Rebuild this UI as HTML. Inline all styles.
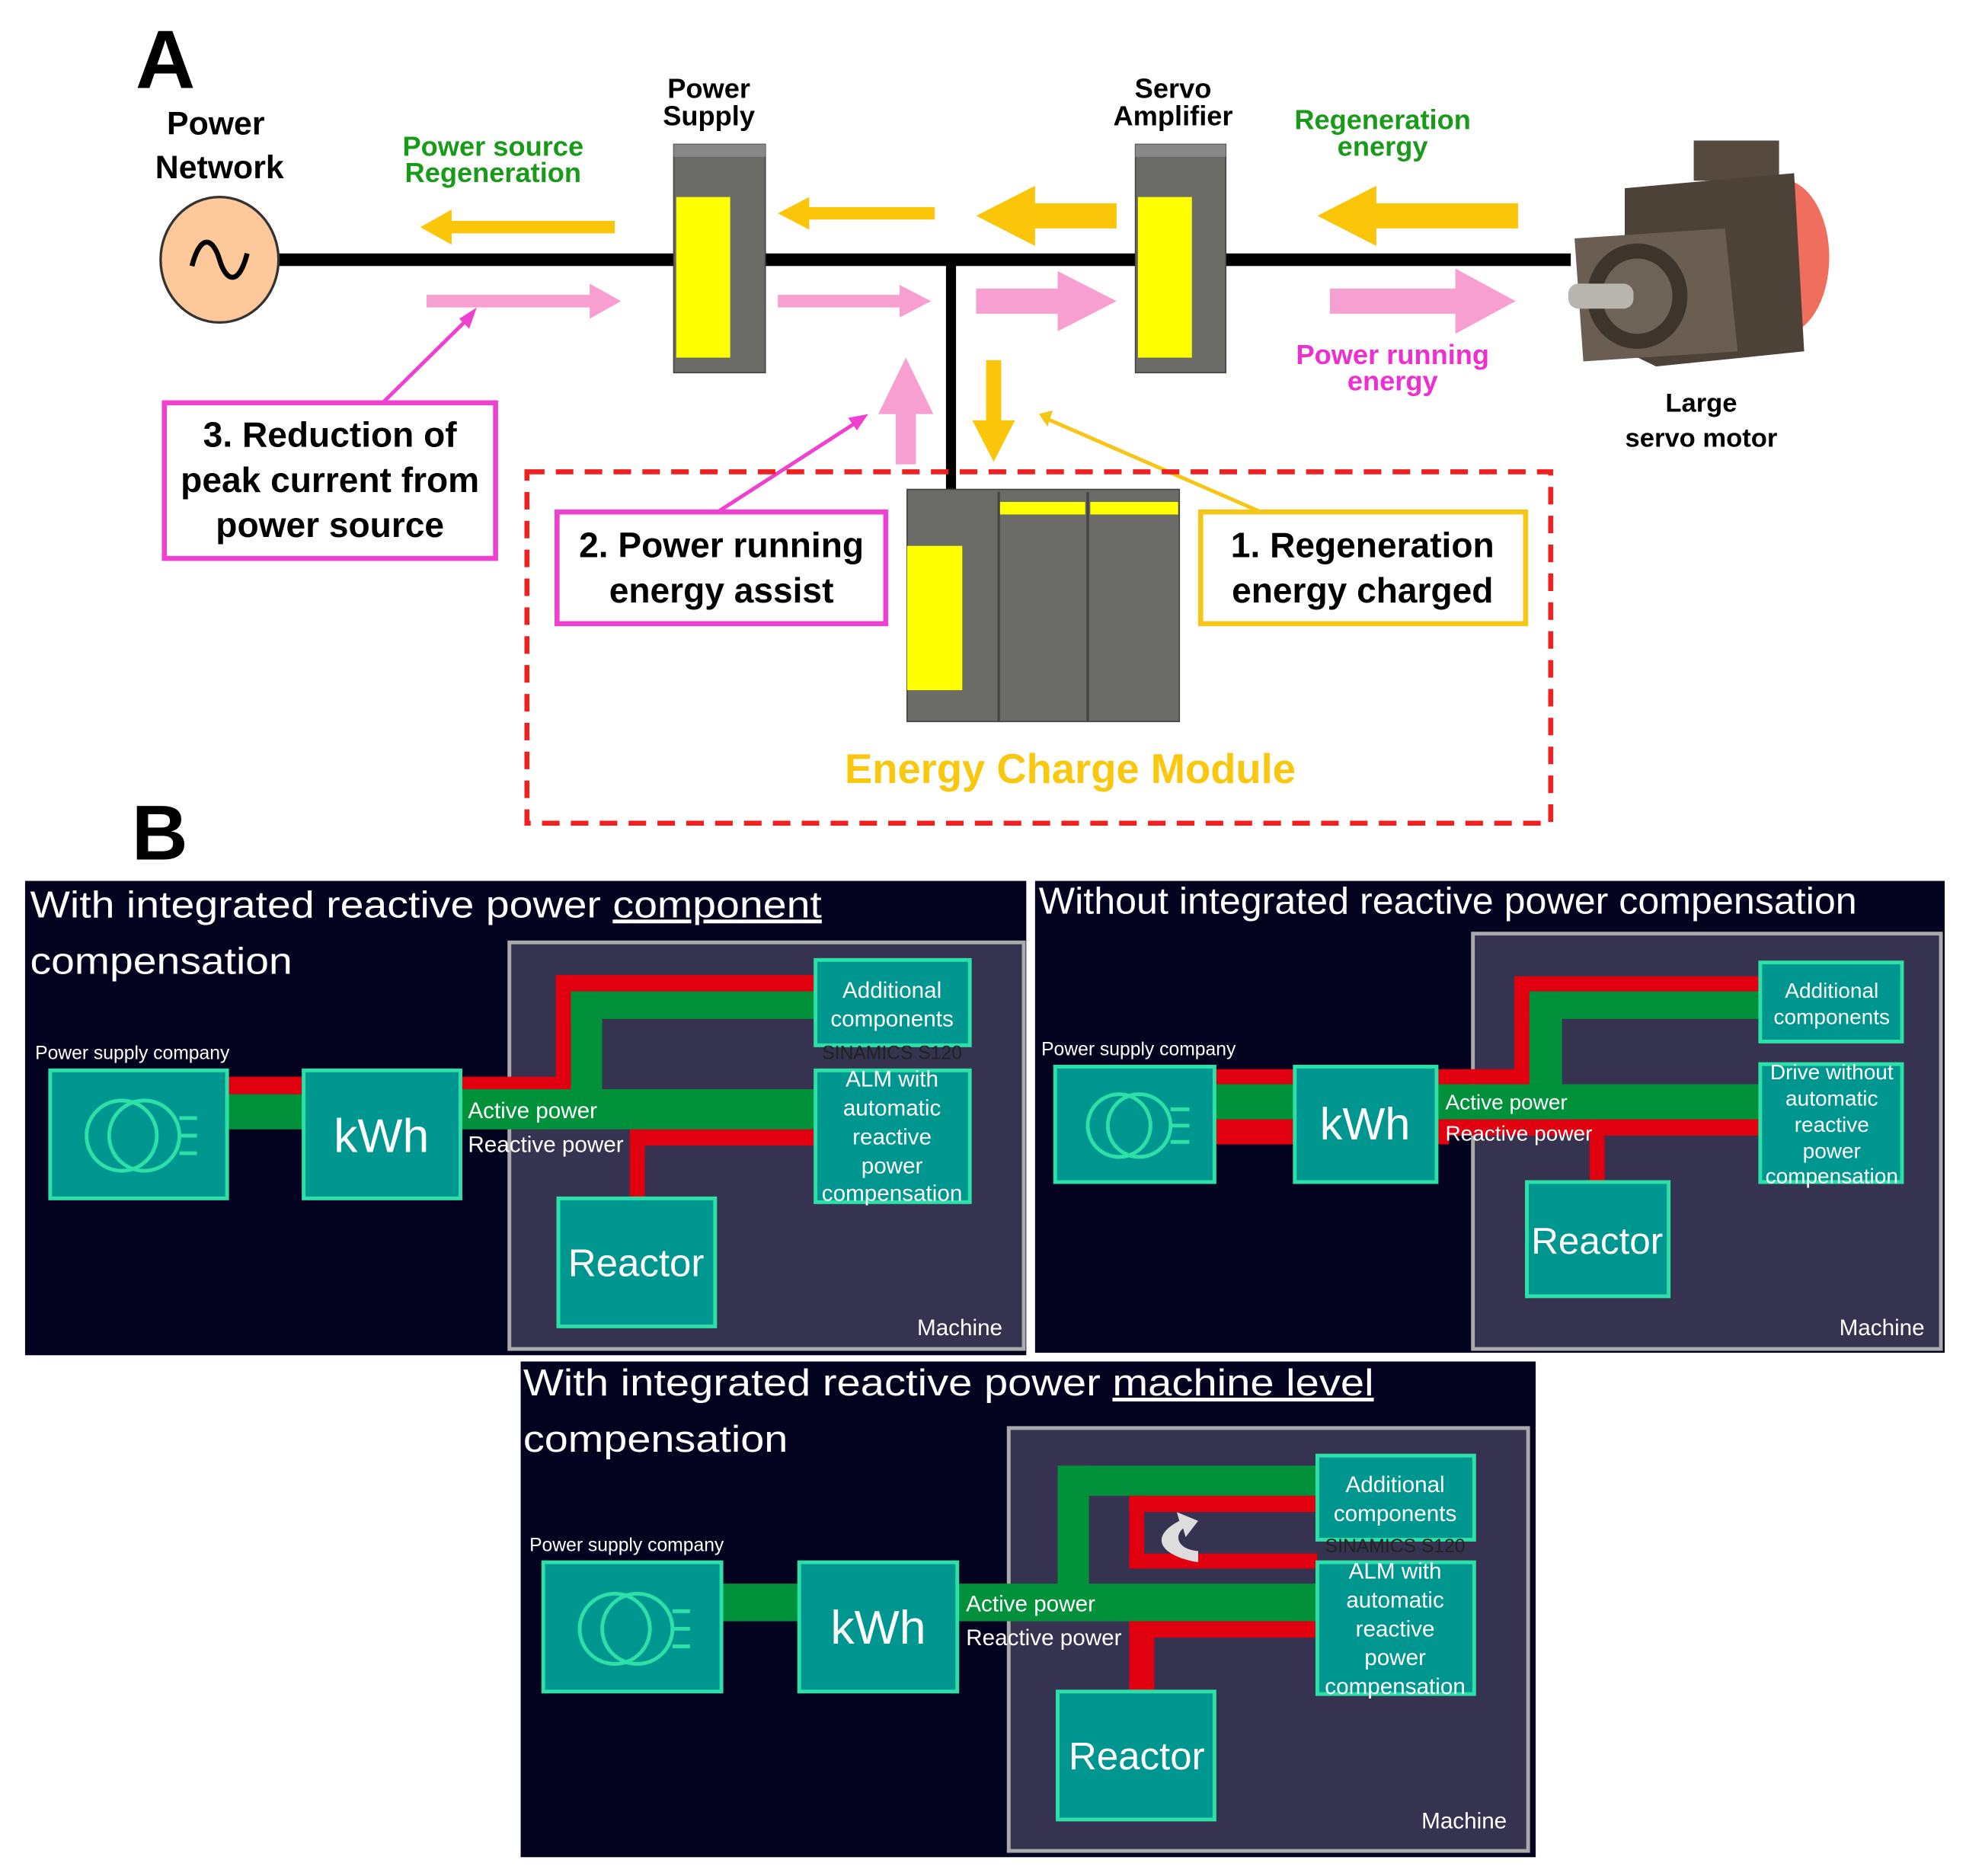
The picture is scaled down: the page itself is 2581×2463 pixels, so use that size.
<!DOCTYPE html>
<html><head><meta charset="utf-8"><style>
html,body{margin:0;padding:0;background:#fff}
svg{display:block}
text{font-family:"Liberation Sans",sans-serif}
.b{font-weight:bold}
</style></head><body>
<svg width="2581" height="2463" viewBox="0 0 1567 1495" preserveAspectRatio="none" xmlns="http://www.w3.org/2000/svg">
<rect width="1567" height="1495" fill="#fff"/>
<!-- Panel A -->
<text x="108" y="70" class="b" font-size="66">A</text>
<text x="172" y="107" class="b" font-size="26" text-anchor="middle">Power</text>
<text x="175" y="142" class="b" font-size="26" text-anchor="middle">Network</text>
<line x1="220" y1="207" x2="1252" y2="207" stroke="#000" stroke-width="10"/>
<line x1="758" y1="207" x2="758" y2="392" stroke="#000" stroke-width="8"/>
<ellipse cx="175" cy="207" rx="47" ry="50" fill="#fdc99a" stroke="#333" stroke-width="2"/>
<path d="M153 212 C160 185,170 190,175 207 C180 224,190 229,197 202" fill="none" stroke="#000" stroke-width="4"/>
<text x="393" y="124" class="b" font-size="22" fill="#1a9a1a" text-anchor="middle">Power source</text>
<text x="393" y="145" class="b" font-size="22" fill="#1a9a1a" text-anchor="middle">Regeneration</text>
<text x="565" y="78" class="b" font-size="22" text-anchor="middle">Power</text>
<text x="565" y="100" class="b" font-size="22" text-anchor="middle">Supply</text>
<text x="935" y="78" class="b" font-size="22" text-anchor="middle">Servo</text>
<text x="935" y="100" class="b" font-size="22" text-anchor="middle">Amplifier</text>
<text x="1102" y="103" class="b" font-size="22" fill="#1a9a1a" text-anchor="middle">Regeneration</text>
<text x="1102" y="124" class="b" font-size="22" fill="#1a9a1a" text-anchor="middle">energy</text>
<text x="1110" y="290" class="b" font-size="22" fill="#ee2fd0" text-anchor="middle">Power running</text>
<text x="1110" y="311" class="b" font-size="22" fill="#ee2fd0" text-anchor="middle">energy</text>
<text x="1356" y="328" class="b" font-size="21" text-anchor="middle">Large</text>
<text x="1356" y="356" class="b" font-size="21" text-anchor="middle">servo motor</text>
<!-- modules -->
<rect x="537" y="115" width="73" height="182" fill="#6b6b68" stroke="#444"/>
<rect x="539" y="157" width="43" height="128" fill="#ffff00"/>
<rect x="537" y="115" width="73" height="10" fill="#888"/>
<rect x="905" y="115" width="72" height="182" fill="#6b6b68" stroke="#444"/>
<rect x="907" y="157" width="43" height="128" fill="#ffff00"/>
<rect x="905" y="115" width="72" height="10" fill="#888"/>
<rect x="723" y="390" width="217" height="185" fill="#6b6b68" stroke="#444"/>
<rect x="723" y="435" width="44" height="115" fill="#ffff00"/>
<rect x="797" y="400" width="68" height="10" fill="#ffff00"/>
<rect x="869" y="400" width="70" height="10" fill="#ffff00"/>
<line x1="796" y1="392" x2="796" y2="575" stroke="#444" stroke-width="2"/>
<line x1="867" y1="392" x2="867" y2="575" stroke="#444" stroke-width="2"/>
<!-- motor -->
<ellipse cx="1420" cy="205" rx="38" ry="62" fill="#ef6e5e"/>
<rect x="1350" y="112" width="68" height="32" fill="#56493e"/>
<polygon points="1295,150 1430,138 1438,280 1320,292 1295,280" fill="#4d4238"/>
<polygon points="1255,190 1375,182 1385,280 1262,288" fill="#6a5e52"/>
<ellipse cx="1305" cy="236" rx="40" ry="42" fill="#3d342c"/>
<ellipse cx="1305" cy="236" rx="28" ry="30" fill="#6e6358"/>
<rect x="1250" y="226" width="52" height="20" rx="8" fill="#b8b4ae"/>
<!-- yellow arrows -->
<g fill="#fbc50a">
<polygon points="490,176 360,176 360,167 335,181 360,195 360,186 490,186"/>
<polygon points="745,165 645,165 645,157 620,170 645,183 645,175 745,175"/>
<polygon points="890,162 825,162 825,148 778,172 825,196 825,182 890,182"/>
<polygon points="1210,162 1097,162 1097,148 1050,172 1097,196 1097,182 1210,182"/>
<polygon points="786,287 798,287 798,335 809,335 792,368 775,335 786,335"/>
</g>
<g fill="#f79fd0">
<polygon points="340,235 470,235 470,226 495,240 470,254 470,245 340,245"/>
<polygon points="620,235 717,235 717,227 742,240 717,253 717,245 620,245"/>
<polygon points="778,230 843,230 843,216 890,240 843,264 843,250 778,250"/>
<polygon points="1060,230 1160,230 1160,214 1208,240 1160,266 1160,250 1060,250"/>
<polygon points="714,370 730,370 730,330 744,330 722,285 700,330 714,330"/>
</g>
<!-- callout lines -->
<line x1="305" y1="321" x2="375" y2="252" stroke="#f040d0" stroke-width="3"/>
<polygon points="380,245 366,254 374,262" fill="#f040d0"/>
<line x1="572" y1="408" x2="685" y2="335" stroke="#f040d0" stroke-width="3"/>
<polygon points="692,330 676,333 683,343" fill="#f040d0"/>
<line x1="1005" y1="408" x2="835" y2="334" stroke="#f5c518" stroke-width="3"/>
<polygon points="828,330 839,327 835,340" fill="#f5c518"/>
<rect x="420" y="376" width="816" height="280" fill="none" stroke="#f02020" stroke-width="4" stroke-dasharray="14 9"/>
<rect x="131" y="321" width="264" height="124" fill="#fff" stroke="#f040d0" stroke-width="4"/>
<text x="263" y="356" class="b" font-size="28" text-anchor="middle">3. Reduction of</text>
<text x="263" y="392" class="b" font-size="28" text-anchor="middle">peak current from</text>
<text x="263" y="428" class="b" font-size="28" text-anchor="middle">power source</text>
<rect x="444" y="408" width="262" height="89" fill="#fff" stroke="#f040d0" stroke-width="4"/>
<text x="575" y="444" class="b" font-size="28" text-anchor="middle">2. Power running</text>
<text x="575" y="480" class="b" font-size="28" text-anchor="middle">energy assist</text>
<rect x="957" y="408" width="259" height="89" fill="#fff" stroke="#f5c518" stroke-width="4"/>
<text x="1086" y="444" class="b" font-size="28" text-anchor="middle">1. Regeneration</text>
<text x="1086" y="480" class="b" font-size="28" text-anchor="middle">energy charged</text>
<text x="853" y="624" class="b" font-size="33" fill="#f9c80e" text-anchor="middle">Energy Charge Module</text>
<text x="105" y="685" class="b" font-size="62">B</text>

<!-- Panel B1 -->
<rect x="20" y="702" width="798" height="378" fill="#03021f"/>
<text x="24" y="731" font-size="30" fill="#fff" textLength="631" lengthAdjust="spacingAndGlyphs">With integrated reactive power <tspan text-decoration="underline">component</tspan></text>
<text x="24" y="776" font-size="30" fill="#fff" textLength="209" lengthAdjust="spacingAndGlyphs">compensation</text>
<rect x="406" y="751" width="410" height="324" fill="#35334f" stroke="#aaa" stroke-width="3"/>
<text x="28" y="844" font-size="15" fill="#fff">Power supply company</text>
<g fill="#e00010">
<rect x="181" y="858" width="61" height="14"/><rect x="367" y="858" width="88" height="12"/>
<rect x="443" y="777" width="12" height="93"/><rect x="443" y="777" width="207" height="13"/>
<rect x="502" y="900" width="148" height="13"/><rect x="502" y="900" width="12" height="56"/>
</g>
<g fill="#00913a">
<rect x="181" y="872" width="61" height="28"/><rect x="367" y="868" width="283" height="32"/>
<rect x="455" y="790" width="25" height="80"/><rect x="455" y="790" width="195" height="22"/>
</g>
<g fill="#009690" stroke="#2de0a8" stroke-width="3">
<rect x="40" y="853" width="141" height="102"/><rect x="242" y="853" width="125" height="102"/>
<rect x="650" y="765" width="123" height="68"/><rect x="650" y="853" width="123" height="105"/>
<rect x="445" y="955" width="125" height="102"/>
</g>
<g fill="none" stroke="#2de0a8" stroke-width="3"><circle cx="97" cy="905" r="28"/><circle cx="115" cy="905" r="28"/><path d="M143 891h14M143 905h14M143 919h14"/></g>
<text x="304" y="918" font-size="38" fill="#fff" text-anchor="middle">kWh</text>
<text x="711" y="795" font-size="18" fill="#fff" text-anchor="middle">Additional</text>
<text x="711" y="818" font-size="18" fill="#fff" text-anchor="middle">components</text>
<text x="711" y="844" font-size="15" fill="#222" text-anchor="middle">SINAMICS S120</text>
<text x="711" y="866" font-size="18" fill="#fff" text-anchor="middle">ALM with</text>
<text x="711" y="889" font-size="18" fill="#fff" text-anchor="middle">automatic</text>
<text x="711" y="912" font-size="18" fill="#fff" text-anchor="middle">reactive</text>
<text x="711" y="935" font-size="18" fill="#fff" text-anchor="middle">power</text>
<text x="711" y="957" font-size="18" fill="#fff" text-anchor="middle">compensation</text>
<text x="373" y="891" font-size="18" fill="#fff">Active power</text>
<text x="373" y="918" font-size="18" fill="#fff">Reactive power</text>
<text x="507" y="1017" font-size="31" fill="#fff" text-anchor="middle">Reactor</text>
<text x="765" y="1064" font-size="18" fill="#fff" text-anchor="middle">Machine</text>

<!-- Panel B2 -->
<rect x="825" y="702" width="725" height="376" fill="#03021f"/>
<text x="828" y="728" font-size="30" fill="#fff" textLength="652" lengthAdjust="spacingAndGlyphs">Without integrated reactive power compensation</text>
<rect x="1174" y="744" width="373" height="331" fill="#35334f" stroke="#aaa" stroke-width="3"/>
<text x="830" y="841" font-size="15" fill="#fff">Power supply company</text>
<g fill="#e00010">
<rect x="968" y="852" width="64" height="12"/><rect x="968" y="892" width="64" height="20"/>
<rect x="1145" y="852" width="74" height="12"/><rect x="1207" y="778" width="12" height="86"/>
<rect x="1207" y="778" width="196" height="12"/><rect x="1145" y="892" width="258" height="13"/>
<rect x="1145" y="892" width="10" height="20"/><rect x="1267" y="892" width="12" height="50"/>
</g>
<g fill="#00913a">
<rect x="968" y="864" width="64" height="28"/><rect x="1145" y="864" width="258" height="28"/>
<rect x="1219" y="790" width="26" height="74"/><rect x="1219" y="790" width="184" height="22"/>
</g>
<g fill="#009690" stroke="#2de0a8" stroke-width="3">
<rect x="841" y="850" width="127" height="92"/><rect x="1032" y="850" width="113" height="92"/>
<rect x="1403" y="767" width="113" height="63"/><rect x="1403" y="848" width="113" height="94"/>
<rect x="1217" y="942" width="113" height="91"/>
</g>
<g fill="none" stroke="#2de0a8" stroke-width="3"><circle cx="892" cy="897" r="25"/><circle cx="908" cy="897" r="25"/><path d="M933 884h15M933 897h15M933 910h15"/></g>
<text x="1088" y="908" font-size="36" fill="#fff" text-anchor="middle">kWh</text>
<text x="1460" y="795" font-size="17" fill="#fff" text-anchor="middle">Additional</text>
<text x="1460" y="816" font-size="17" fill="#fff" text-anchor="middle">components</text>
<text x="1460" y="860" font-size="17" fill="#fff" text-anchor="middle">Drive without</text>
<text x="1460" y="881" font-size="17" fill="#fff" text-anchor="middle">automatic</text>
<text x="1460" y="902" font-size="17" fill="#fff" text-anchor="middle">reactive</text>
<text x="1460" y="923" font-size="17" fill="#fff" text-anchor="middle">power</text>
<text x="1460" y="943" font-size="17" fill="#fff" text-anchor="middle">compensation</text>
<text x="1152" y="884" font-size="17" fill="#fff">Active power</text>
<text x="1152" y="909" font-size="17" fill="#fff">Reactive power</text>
<text x="1273" y="999" font-size="30" fill="#fff" text-anchor="middle">Reactor</text>
<text x="1500" y="1064" font-size="18" fill="#fff" text-anchor="middle">Machine</text>

<!-- Panel B3 -->
<rect x="415" y="1085" width="809" height="395" fill="#03021f"/>
<text x="417" y="1112" font-size="30" fill="#fff" textLength="678" lengthAdjust="spacingAndGlyphs">With integrated reactive power <tspan text-decoration="underline">machine level</tspan></text>
<text x="417" y="1157" font-size="30" fill="#fff" textLength="211" lengthAdjust="spacingAndGlyphs">compensation</text>
<rect x="804" y="1138" width="414" height="337" fill="#35334f" stroke="#aaa" stroke-width="3"/>
<text x="422" y="1236" font-size="15" fill="#fff">Power supply company</text>
<g fill="#00913a">
<rect x="575" y="1262" width="62" height="30"/><rect x="763" y="1262" width="287" height="30"/>
<rect x="843" y="1168" width="25" height="96"/><rect x="843" y="1168" width="207" height="24"/>
</g>
<g fill="#e00010">
<rect x="900" y="1192" width="12" height="58"/><rect x="900" y="1192" width="150" height="13"/>
<rect x="900" y="1238" width="150" height="12"/><rect x="900" y="1292" width="150" height="13"/>
<rect x="900" y="1292" width="20" height="56"/>
</g>
<path d="M955 1245 C925 1240,915 1225,940 1212 L938 1205 L955 1212 L945 1225 L943 1218 C935 1225,940 1235,955 1236 Z" fill="#ddd"/>
<g fill="#009690" stroke="#2de0a8" stroke-width="3">
<rect x="433" y="1245" width="142" height="103"/><rect x="637" y="1245" width="126" height="103"/>
<rect x="1050" y="1160" width="125" height="67"/><rect x="1050" y="1245" width="125" height="105"/>
<rect x="843" y="1348" width="125" height="102"/>
</g>
<g fill="none" stroke="#2de0a8" stroke-width="3"><circle cx="490" cy="1298" r="28"/><circle cx="508" cy="1298" r="28"/><path d="M536 1284h14M536 1298h14M536 1312h14"/></g>
<text x="700" y="1310" font-size="38" fill="#fff" text-anchor="middle">kWh</text>
<text x="1112" y="1189" font-size="18" fill="#fff" text-anchor="middle">Additional</text>
<text x="1112" y="1212" font-size="18" fill="#fff" text-anchor="middle">components</text>
<text x="1112" y="1237" font-size="15" fill="#222" text-anchor="middle">SINAMICS S120</text>
<text x="1112" y="1258" font-size="18" fill="#fff" text-anchor="middle">ALM with</text>
<text x="1112" y="1281" font-size="18" fill="#fff" text-anchor="middle">automatic</text>
<text x="1112" y="1304" font-size="18" fill="#fff" text-anchor="middle">reactive</text>
<text x="1112" y="1327" font-size="18" fill="#fff" text-anchor="middle">power</text>
<text x="1112" y="1350" font-size="18" fill="#fff" text-anchor="middle">compensation</text>
<text x="770" y="1284" font-size="18" fill="#fff">Active power</text>
<text x="770" y="1311" font-size="18" fill="#fff">Reactive power</text>
<text x="906" y="1410" font-size="31" fill="#fff" text-anchor="middle">Reactor</text>
<text x="1167" y="1457" font-size="18" fill="#fff" text-anchor="middle">Machine</text>
</svg>
</body></html>
